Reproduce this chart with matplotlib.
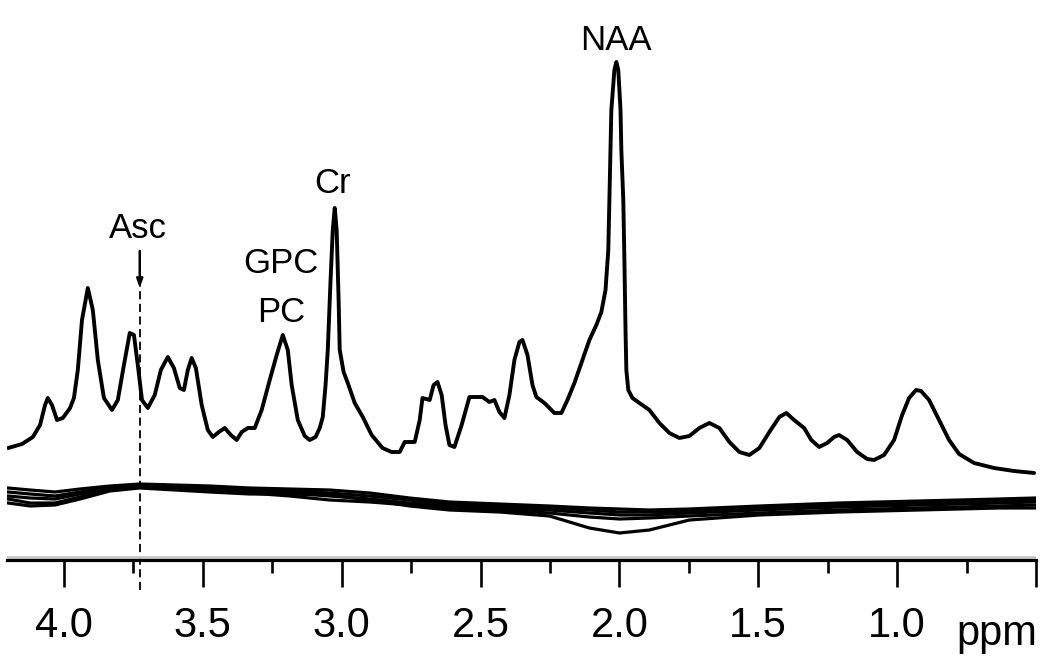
import numpy as np
import matplotlib
matplotlib.use('Agg')
import matplotlib.pyplot as plt

plt.rcParams['font.family'] = ['Liberation Sans', 'DejaVu Sans']

# ---------------- spectrum (chemical shift in ppm, intensity in a.u.) ----------------
spec_ppm = [4.201, 4.151, 4.112, 4.086, 4.068, 4.058, 4.043, 4.025, 4.004, 3.978,
            3.964, 3.950, 3.935, 3.914, 3.896, 3.878, 3.856, 3.827, 3.806, 3.784,
            3.763, 3.748, 3.734, 3.719, 3.698, 3.673, 3.651, 3.626, 3.604, 3.583,
            3.568, 3.554, 3.540, 3.525, 3.504, 3.482, 3.464, 3.442, 3.421, 3.399,
            3.378, 3.360, 3.338, 3.313, 3.288, 3.259, 3.234, 3.212, 3.194, 3.180,
            3.158, 3.133, 3.115, 3.094, 3.079, 3.068, 3.058, 3.050, 3.040, 3.032,
            3.025, 3.018, 3.011, 3.007, 2.993, 2.978, 2.953, 2.924, 2.892, 2.853,
            2.820, 2.791, 2.773, 2.737, 2.719, 2.709, 2.683, 2.669, 2.655, 2.640,
            2.626, 2.612, 2.594, 2.568, 2.540, 2.493, 2.468, 2.450, 2.432, 2.414,
            2.396, 2.378, 2.360, 2.349, 2.331, 2.313, 2.299, 2.270, 2.234, 2.209,
            2.187, 2.162, 2.133, 2.108, 2.083, 2.065, 2.050, 2.040, 2.036, 2.029,
            2.018, 2.011, 2.004, 1.996, 1.993, 1.986, 1.982, 1.978, 1.975, 1.968,
            1.953, 1.928, 1.892, 1.856, 1.820, 1.784, 1.748, 1.712, 1.676, 1.640,
            1.604, 1.568, 1.532, 1.496, 1.460, 1.424, 1.399, 1.371, 1.335, 1.309,
            1.281, 1.252, 1.227, 1.209, 1.180, 1.144, 1.108, 1.083, 1.047, 1.011,
            0.982, 0.957, 0.932, 0.914, 0.885, 0.849, 0.813, 0.777, 0.723, 0.651,
            0.579, 0.507]
spec_int = [112, 116, 123, 135, 155, 162, 155, 140, 142, 152,
            162, 190, 240, 272, 250, 200, 162, 150, 160, 195,
            227, 225, 195, 160, 152, 165, 190, 203, 192, 172,
            170, 190, 202, 192, 155, 130, 123, 128, 132, 125,
            120, 128, 132, 132, 150, 180, 205, 225, 210, 175,
            140, 124, 120, 123, 132, 143, 175, 210, 280, 330,
            352, 330, 260, 210, 188, 177, 157, 143, 125, 112,
            108, 108, 118, 118, 140, 162, 160, 175, 178, 165,
            135, 115, 113, 135, 163, 163, 158, 160, 148, 142,
            165, 200, 218, 220, 205, 175, 163, 157, 147, 147,
            160, 177, 200, 220, 235, 248, 270, 310, 360, 450,
            490, 498, 490, 450, 410, 360, 300, 230, 190, 170,
            162, 157, 150, 137, 127, 122, 124, 132, 137, 132,
            118, 108, 105, 112, 128, 143, 147, 140, 132, 120,
            113, 117, 123, 125, 120, 108, 101, 100, 105, 120,
            145, 162, 170, 169, 160, 140, 120, 106, 97, 92,
            89, 87]

# ---------------- residual traces below the spectrum ----------------
res_ppm = [4.201, 4.122, 4.032, 3.942, 3.835, 3.727, 3.601, 3.475, 3.331, 3.187,
           3.043, 2.899, 2.755, 2.612, 2.432, 2.252, 2.108, 2.000, 1.892, 1.748,
           1.496, 1.209, 0.921, 0.633, 0.504]
res_1 = [72, 70, 68, 71, 74, 76, 75, 74, 72, 71, 70, 67, 62, 58, 56, 54, 52, 51, 50, 51, 54, 57, 59, 61, 62]
res_2 = [68, 66, 64, 68, 73, 75, 74, 72, 70, 69, 67, 64, 60, 56, 54, 52, 50, 48, 48, 49, 52, 55, 57, 59, 60]
res_3 = [64, 62, 61, 66, 72, 74, 73, 71, 69, 67, 64, 61, 57, 54, 52, 50, 47, 45, 45, 47, 50, 53, 55, 57, 58]
res_4 = [61, 57, 57, 63, 70, 73, 71, 69, 67, 64, 60, 58, 55, 52, 50, 47, 43, 41, 42, 44, 47, 50, 52, 54, 55]
res_5 = [57, 54, 55, 61, 69, 72, 70, 68, 66, 66, 65, 60, 54, 50, 48, 44, 32, 27, 30, 40, 45, 48, 50, 52, 52]
residuals = [res_1, res_2, res_3, res_4, res_5]

# peak labels: (text, ppm, intensity of baseline)
peak_labels = [('NAA', 2.012, 510), ('Cr', 3.031, 367), ('GPC', 3.218, 287), ('PC', 3.218, 238)]
asc_ppm = 3.727
major_ticks = [4.0, 3.5, 3.0, 2.5, 2.0, 1.5, 1.0, 0.5]
major_labels = ['4.0', '3.5', '3.0', '2.5', '2.0', '1.5', '1.0', '']
minor_ticks = [3.75, 3.25, 2.75, 2.25, 1.75, 1.25, 0.75]

fig = plt.figure(figsize=(10.5, 6.72), dpi=100)
ax = fig.add_axes([7 / 1050, 112 / 672, 1029 / 1050, 560 / 672])

ax.plot(spec_ppm, spec_int, color='black', lw=2.8, solid_joinstyle='round',
        solid_capstyle='round')
for r in residuals:
    ax.plot(res_ppm, r, color='black', lw=2.3, solid_joinstyle='round')

# Asc marker: arrow plus dashed guide down through the axis
ax.plot([asc_ppm, asc_ppm], [-30, 275], color='black', lw=1.3,
        linestyle=(0, (4.5, 2.5)), clip_on=False)
ax.annotate('', xy=(asc_ppm, 272), xytext=(asc_ppm, 309),
            arrowprops=dict(arrowstyle='-|>,head_length=0.5,head_width=0.18',
                            color='black', lw=1.8, shrinkA=0, shrinkB=0))
ax.text(3.732, 322, 'Asc', fontsize=25, ha='center', va='baseline')
for txt, x, y in peak_labels:
    ax.text(x, y, txt, fontsize=25, ha='center', va='baseline')

ax.axhline(3.5, color='#c8c8c8', lw=2)

ax.set_xlim(4.205, 0.5)
ax.set_ylim(0, 560)
for s in ['left', 'right', 'top']:
    ax.spines[s].set_visible(False)
ax.spines['bottom'].set_linewidth(2.3)
ax.set_yticks([])
ax.set_xticks(major_ticks)
ax.set_xticklabels(major_labels)
ax.set_xticks(minor_ticks, minor=True)
ax.tick_params(axis='x', which='major', direction='out', length=19.5, width=1.9,
               labelsize=30, pad=13.5)
ax.tick_params(axis='x', which='minor', direction='out', length=9.5, width=1.9)
ax.text(0.64, -85, 'ppm', fontsize=30, ha='center', va='baseline', clip_on=False)

fig.savefig('out.png', dpi=100)
